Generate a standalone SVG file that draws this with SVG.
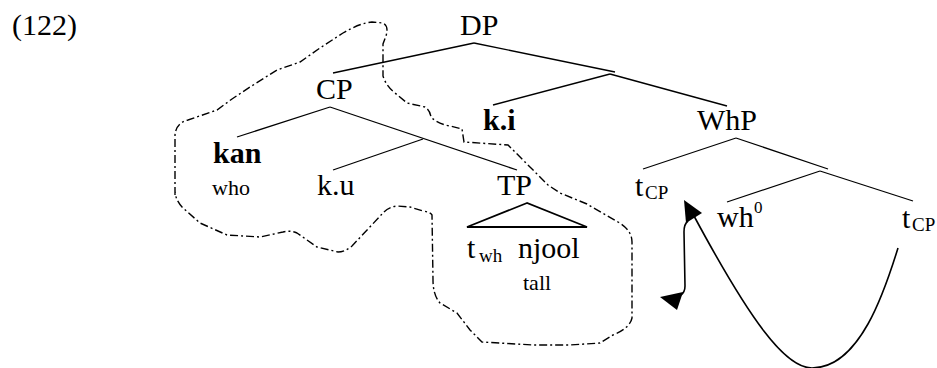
<svg xmlns="http://www.w3.org/2000/svg" width="937" height="368" viewBox="0 0 937 368">
<style>
text{font-family:"Liberation Serif","Times New Roman",serif;fill:#000}
.l{font-size:30px}
.b{font-weight:bold}
.s{font-size:22px}
.sub{font-size:19px}
.sup{font-size:17px}
.edge{stroke:#000;stroke-width:1.3;fill:none}
.tri{stroke:#000;stroke-width:1.8;fill:none;stroke-linejoin:miter}
.dash{stroke:#000;stroke-width:1.4;fill:none;stroke-dasharray:8 3 2 3}
.arr{stroke:#000;stroke-width:1.6;fill:none}
.head{fill:#000;stroke:none}
</style>
<g id="label-122"><text class="l" x="12" y="35">(122)</text></g>
<g id="node-DP"><text class="l" x="460" y="35">DP</text></g>
<g id="node-CP"><text class="l" x="316" y="99">CP</text></g>
<g id="node-ki"><text class="l b" x="483" y="130">k.i</text></g>
<g id="node-WhP"><text class="l" x="697" y="130">WhP</text></g>
<g id="node-kan"><text class="l b" x="213" y="163">kan</text><text class="s" x="212" y="195">who</text></g>
<g id="node-ku"><text class="l" x="317" y="195">k.u</text></g>
<g id="node-TP"><text class="l" x="497" y="195">TP</text>
<path class="tri" d="M527,203 L467,227 L587,227 Z"/>
<text class="l" x="467" y="258">t</text><text class="sub" x="479" y="262">wh</text>
<text class="l" x="518" y="258">njool</text>
<text class="s" x="523" y="290">tall</text></g>
<g id="node-tCP1"><text class="l" x="635" y="196">t</text><text class="sub" x="645" y="199">CP</text></g>
<g id="node-wh0"><text class="l" x="717" y="227">wh</text><text class="sup" x="754" y="213">0</text></g>
<g id="node-tCP2"><text class="l" x="902" y="228">t</text><text class="sub" x="912" y="231">CP</text></g>
<g id="connectors">
<path class="edge" d="M474,43 L333,73"/>
<path class="edge" d="M474,43 L615,72"/>
<path class="edge" d="M610,74 L493,105"/>
<path class="edge" d="M610,74 L727,106"/>
<path class="edge" d="M330,107 L237,137"/>
<path class="edge" d="M330,107 L517,170"/>
<path class="edge" d="M423,139 L333,170"/>
<path class="edge" d="M736,138 L643,169"/>
<path class="edge" d="M736,138 L828,169"/>
<path class="edge" d="M820,171 L727,202"/>
<path class="edge" d="M820,171 L913,201"/>
<path class="dash" d="M175,195 L175,135 Q176,123 188,120 L217,110 L232,99 L250,87 L277,70 L300,62 L320,48 L343,33 Q360,23 372,22 L383,23 Q389,26 386,36 L383,44 L383,76 Q386,86 395,93 L407,103 L425,107 Q430,110 431,117 Q438,124 450,126 L462,129 L464,142 L508,145 L548,185 L560,193 L587,204 L618,222 Q632,230 632,242 L632,318 Q630,328 613,335 L600,343 L570,345 L533,345 L482,342 L470,330 L457,313 L440,303 Q433,295 433,280 L432,215 Q430,212 423,211 L410,207 L397,206 Q388,207 383,213 L352,246 Q345,252 338,252 L317,247 L297,233 Q290,230 283,232 L260,237 L227,235 L200,223 L183,208 Q175,200 175,190 Z"/>
<path class="arr" d="M898,248 C885,290 860,368 812,368 C785,368 750,320 694,216"/>
<polygon class="head" points="684,200 702,213 686,223"/>
<path class="arr" d="M688,221 Q684,224 684,232 L685,286 Q685,292 681,295"/>
<polygon class="head" points="660,297 683,292 677,310"/>
</g>
</svg>
